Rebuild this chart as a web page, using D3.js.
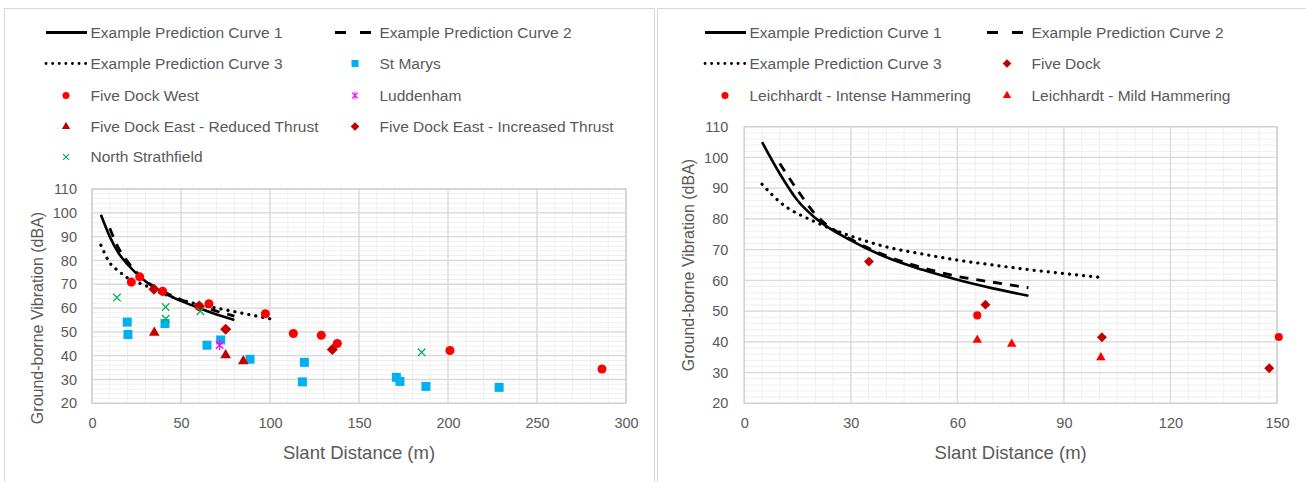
<!DOCTYPE html>
<html>
<head>
<meta charset="utf-8">
<script src="https://cdn.jsdelivr.net/npm/d3@7"></script>
<style>
  body { margin: 0; background: #fff; }
  .tick text { font-family: "Liberation Sans", Arial, sans-serif; font-size: 14.5px; fill: #595959; }
  .legend text { font-family: "Liberation Sans", Arial, sans-serif; font-size: 15.5px; fill: #595959; }
  .title { font-family: "Liberation Sans", Arial, sans-serif; fill: #595959; }
</style>
</head>
<body>
<script>
// ---- left chart data ----
var curve1L_x = [5, 10, 15, 20, 30, 40, 50, 60, 70, 80];
var curve1L_y = [99.2, 90, 83, 78.3, 71.3, 66.5, 63, 60, 57.3, 55];
var curve2L_x = [10, 15, 20, 30, 40, 50, 60, 70, 80];
var curve2L_y = [93.5, 85, 79.5, 71.5, 67, 63.5, 61, 58.7, 56.6];
var curve3L_x = [5, 10, 15, 20, 30, 40, 50, 60, 70, 80, 90, 100];
var curve3L_y = [86.4, 79, 75.5, 72.6, 69.5, 66, 63.5, 61.5, 60, 58.5, 57, 55.5];

var stMarys = [[19.8, 54.1], [20.2, 48.9], [41, 53.5], [64.6, 44.4], [72.3, 46.6], [88.8, 38.5],
  [119.3, 37.2], [118.2, 29.0], [171, 30.9], [173, 29.2], [187.6, 27.1], [228.7, 26.7]];
var fiveDockWest = [[22.1, 70.9], [26.8, 73.1], [39.7, 67.0], [60.2, 60.6], [65.7, 61.8], [97.4, 57.6],
  [113.1, 49.3], [128.8, 48.6], [137.8, 45.1], [201.1, 42.2], [286.5, 34.4]];
var luddenham = [[71.7, 44.5]];
var fdeReduced = [[35, 49.7], [75.1, 40.2], [85, 37.7]];
var fdeIncreased = [[34.8, 67.9], [60.3, 60.8], [75.1, 51.1], [135, 42.6]];
var northStrathfield = [[14, 64.4], [41.4, 60.4], [41.4, 55.5], [60.9, 58.7], [185.2, 41.4]];

// ---- right chart data ----
var curve1R_x = [5, 10, 15, 20, 30, 40, 50, 60, 70, 80];
var curve1R_y = [105, 94.7, 86, 80.3, 73, 67.5, 63.5, 60.2, 57.4, 55];
var curve2R_x = [10, 15, 20, 30, 40, 50, 60, 70, 80];
var curve2R_y = [98, 89.3, 81.5, 73.4, 68, 64.2, 61.3, 59.4, 57.6];
var curve3R_x = [5, 10, 20, 30, 40, 50, 60, 70, 80, 90, 100];
var curve3R_y = [91.3, 85.5, 79, 74.4, 70.9, 68.6, 66.6, 65, 63.5, 62.2, 61];

var fiveDock = [[35.1, 66.1], [67.9, 52.1], [100.7, 41.5], [147.8, 31.4]];
var leichIntense = [[65.6, 48.6], [150.5, 41.6]];
var leichMild = [[65.6, 40.6], [75.3, 39.3], [100.4, 34.9]];

var yTicks = [20, 30, 40, 50, 60, 70, 80, 90, 100, 110];
var xTicksL = [0, 50, 100, 150, 200, 250, 300];
var xTicksR = [0, 30, 60, 90, 120, 150];

var W = 1306, H = 482;
var svg = d3.select("body").append("svg").attr("width", W).attr("height", H);

// panel borders
svg.append("rect").attr("x", 4.5).attr("y", 8.5).attr("width", 650).attr("height", 490)
  .attr("fill", "#fff").attr("stroke", "#d9d9d9");
svg.append("rect").attr("x", 657.5).attr("y", 8.5).attr("width", 660).attr("height", 490)
  .attr("fill", "#fff").attr("stroke", "#d9d9d9");

function zip(xs, ys) { return xs.map(function(x, i) { return [x, ys[i]]; }); }

function markerPath(type, s) {
  if (type === "circle") return d3.symbol(d3.symbolCircle, s * s * 0.8)();
  if (type === "square") return d3.symbol(d3.symbolSquare, s * s)();
  if (type === "triangle") return d3.symbol(d3.symbolTriangle, s * s * 0.6)();
  if (type === "diamond") { var h = s * 0.62; return "M0," + (-h) + "L" + h + ",0L0," + h + "L" + (-h) + ",0Z"; }
  if (type === "x") { var a = s * 0.42; return "M" + (-a) + "," + (-a) + "L" + a + "," + a + "M" + (-a) + "," + a + "L" + a + "," + (-a); }
  if (type === "star") { var b = s * 0.42; return "M" + (-b) + "," + (-b) + "L" + b + "," + b + "M" + (-b) + "," + b + "L" + b + "," + (-b) + "M0," + (-b * 1.3) + "L0," + (b * 1.3); }
}

var lineStyles = {
  solid: { dash: null, cap: "butt", width: 2.6 },
  dashed: { dash: "9,8", cap: "butt", width: 2.8 },
  dotted: { dash: "0.1,7", cap: "round", width: 3.2 }
};

function drawChart(cfg) {
  var x = d3.scaleLinear().domain(cfg.xDomain).range(cfg.xRange);
  var y = d3.scaleLinear().domain([20, 110]).range(cfg.yRange);
  var g = svg.append("g");

  // minor grid
  g.selectAll(".mx").data(d3.range(cfg.xDomain[0], cfg.xDomain[1] + 0.01, cfg.xMinor)).enter()
    .append("line").attr("x1", function(d) { return x(d); }).attr("x2", function(d) { return x(d); })
    .attr("y1", y(20)).attr("y2", y(110)).attr("stroke", "#efefef").attr("stroke-width", 1);
  g.selectAll(".my").data(d3.range(20, 110.01, 2)).enter()
    .append("line").attr("y1", function(d) { return y(d); }).attr("y2", function(d) { return y(d); })
    .attr("x1", x(cfg.xDomain[0])).attr("x2", x(cfg.xDomain[1])).attr("stroke", "#efefef").attr("stroke-width", 1);
  // major grid
  g.selectAll(".Mx").data(cfg.xTicks).enter()
    .append("line").attr("x1", function(d) { return x(d); }).attr("x2", function(d) { return x(d); })
    .attr("y1", y(20)).attr("y2", y(110)).attr("stroke", "#d9d9d9").attr("stroke-width", 1.3);
  g.selectAll(".My").data(yTicks).enter()
    .append("line").attr("y1", function(d) { return y(d); }).attr("y2", function(d) { return y(d); })
    .attr("x1", x(cfg.xDomain[0])).attr("x2", x(cfg.xDomain[1])).attr("stroke", "#d9d9d9").attr("stroke-width", 1.3);
  g.append("rect").attr("x", x(cfg.xDomain[0])).attr("y", y(110))
    .attr("width", x(cfg.xDomain[1]) - x(cfg.xDomain[0])).attr("height", y(20) - y(110))
    .attr("fill", "none").attr("stroke", "#d0d0d0").attr("stroke-width", 1.3);

  // axes
  var ya = g.append("g").attr("transform", "translate(" + x(cfg.xDomain[0]) + ",0)")
    .call(d3.axisLeft(y).tickValues(yTicks).tickSize(0).tickPadding(cfg.yPad));
  ya.select(".domain").remove();
  var xa = g.append("g").attr("transform", "translate(0," + y(20) + ")")
    .call(d3.axisBottom(x).tickValues(cfg.xTicks).tickSize(0).tickPadding(14));
  xa.select(".domain").remove();

  g.append("text").attr("class", "title")
    .attr("transform", "translate(" + cfg.yTitleX + "," + cfg.yTitleY + ") rotate(-90)")
    .attr("text-anchor", "middle").attr("dy", "0.35em").style("font-size", "16px")
    .text("Ground-borne Vibration (dBA)");
  g.append("text").attr("class", "title")
    .attr("x", (x(cfg.xDomain[0]) + x(cfg.xDomain[1])) / 2).attr("y", 459)
    .attr("text-anchor", "middle").style("font-size", "18.5px")
    .text("Slant Distance (m)");

  // curves
  var line = d3.line().x(function(d) { return x(d[0]); }).y(function(d) { return y(d[1]); })
    .curve(d3.curveMonotoneX);
  cfg.curves.forEach(function(c) {
    var st = lineStyles[c.style];
    g.append("path").datum(c.data).attr("d", line).attr("fill", "none")
      .attr("stroke", "#000").attr("stroke-width", st.width)
      .attr("stroke-dasharray", st.dash).attr("stroke-linecap", st.cap);
  });

  // points
  cfg.series.forEach(function(s) {
    var open = s.shape === "x" || s.shape === "star";
    g.selectAll(null).data(s.data).enter().append("path")
      .attr("transform", function(d) { return "translate(" + x(d[0]) + "," + y(d[1]) + ")"; })
      .attr("d", markerPath(s.shape, cfg.markerSize))
      .attr("fill", open ? "none" : s.color)
      .attr("stroke", s.color).attr("stroke-width", open ? 1.3 : 0);
  });

  // legend
  var lg = svg.append("g").attr("class", "legend");
  cfg.legend.forEach(function(item, i) {
    var col = i % 2, row = Math.floor(i / 2);
    var lx = cfg.legCols[col], ly = cfg.legRows[row];
    if (item.style) {
      var st = lineStyles[item.style];
      var len = item.style === "dashed" ? 37 : 41;
      lg.append("line").attr("x1", lx).attr("x2", lx + len).attr("y1", ly).attr("y2", ly)
        .attr("stroke", "#000").attr("stroke-width", item.style === "dotted" ? 2.8 : 2.8)
        .attr("stroke-dasharray", item.style === "dashed" ? "11,14" : (item.style === "dotted" ? "0.1,6.5" : null))
        .attr("stroke-linecap", st.cap);
    } else {
      var open = item.shape === "x" || item.shape === "star";
      lg.append("path").attr("transform", "translate(" + (lx + 20) + "," + ly + ")")
        .attr("d", markerPath(item.shape, 7))
        .attr("fill", open ? "none" : item.color)
        .attr("stroke", item.color).attr("stroke-width", open ? 1.1 : 0);
    }
    lg.append("text").attr("x", lx + 44.5).attr("y", ly).attr("dy", "0.35em").text(item.name);
  });
}

var C1 = "Example Prediction Curve 1", C2 = "Example Prediction Curve 2", C3 = "Example Prediction Curve 3";

drawChart({
  xDomain: [0, 300], xRange: [92, 626], yRange: [403.3, 189],
  xTicks: xTicksL, xMinor: 10, yPad: 15, yTitleX: 37, yTitleY: 318, markerSize: 9,
  curves: [
    { style: "dotted", data: zip(curve3L_x, curve3L_y) },
    { style: "dashed", data: zip(curve2L_x, curve2L_y) },
    { style: "solid", data: zip(curve1L_x, curve1L_y) }
  ],
  series: [
    { shape: "square", color: "#00b0f0", data: stMarys },
    { shape: "circle", color: "#ff0000", data: fiveDockWest },
    { shape: "star", color: "#ff00ff", data: luddenham },
    { shape: "triangle", color: "#c00000", data: fdeReduced },
    { shape: "diamond", color: "#c00000", data: fdeIncreased },
    { shape: "x", color: "#00b050", data: northStrathfield }
  ],
  legCols: [46, 335], legRows: [32.5, 63.5, 95.5, 126.5, 157],
  legend: [
    { name: C1, style: "solid" }, { name: C2, style: "dashed" },
    { name: C3, style: "dotted" }, { name: "St Marys", shape: "square", color: "#00b0f0" },
    { name: "Five Dock West", shape: "circle", color: "#ff0000" }, { name: "Luddenham", shape: "star", color: "#ff00ff" },
    { name: "Five Dock East - Reduced Thrust", shape: "triangle", color: "#c00000" },
    { name: "Five Dock East - Increased Thrust", shape: "diamond", color: "#c00000" },
    { name: "North Strathfield", shape: "x", color: "#00b050" }
  ]
});

drawChart({
  xDomain: [0, 150], xRange: [744.3, 1277], yRange: [403.3, 126.7],
  xTicks: xTicksR, xMinor: 5, yPad: 16, yTitleX: 688, yTitleY: 265, markerSize: 8,
  curves: [
    { style: "dotted", data: zip(curve3R_x, curve3R_y) },
    { style: "dashed", data: zip(curve2R_x, curve2R_y) },
    { style: "solid", data: zip(curve1R_x, curve1R_y) }
  ],
  series: [
    { shape: "diamond", color: "#c00000", data: fiveDock },
    { shape: "circle", color: "#ff0000", data: leichIntense },
    { shape: "triangle", color: "#ff0000", data: leichMild }
  ],
  legCols: [705, 987], legRows: [32.5, 63.5, 95.5],
  legend: [
    { name: C1, style: "solid" }, { name: C2, style: "dashed" },
    { name: C3, style: "dotted" }, { name: "Five Dock", shape: "diamond", color: "#c00000" },
    { name: "Leichhardt - Intense Hammering", shape: "circle", color: "#ff0000" },
    { name: "Leichhardt - Mild Hammering", shape: "triangle", color: "#ff0000" }
  ]
});
</script>
</body>
</html>
